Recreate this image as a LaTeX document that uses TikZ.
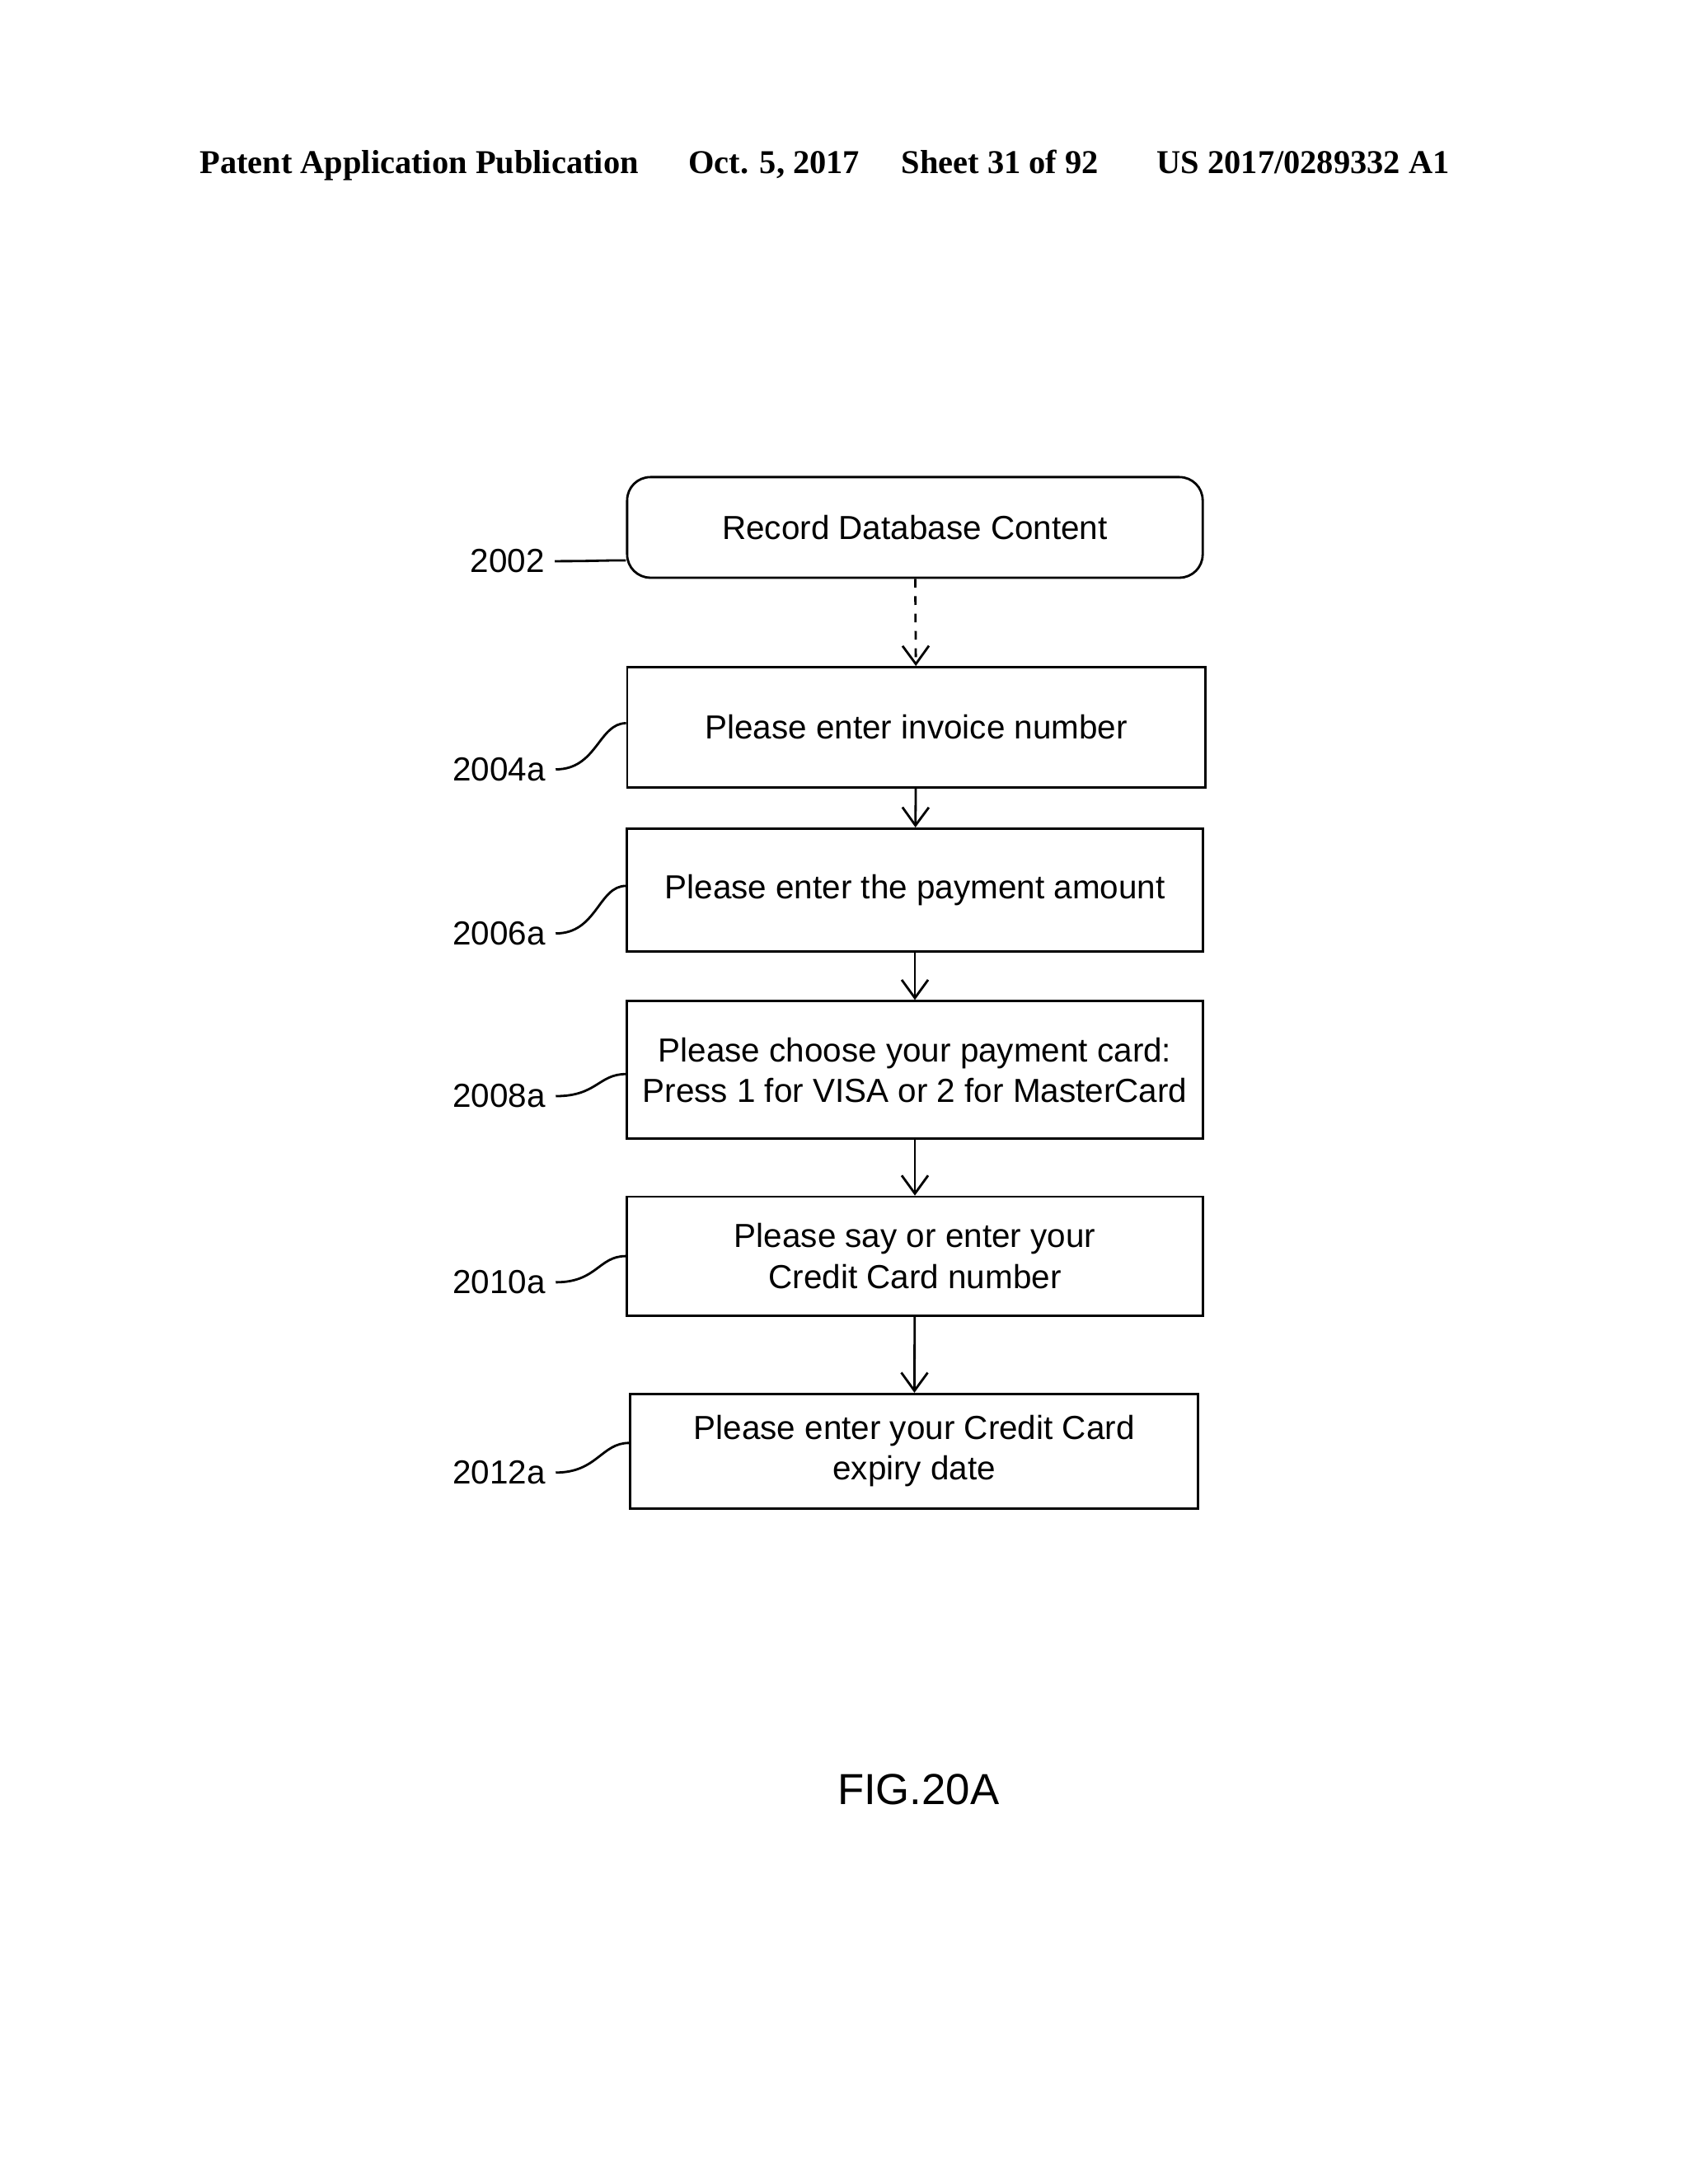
\documentclass[tikz,border=0pt]{standalone}
\usepackage{fontspec}
\setmainfont{Liberation Sans}
\newfontfamily\hdrfont{Liberation Serif}
\usetikzlibrary{arrows.meta,positioning}
\tikzset{
  stepbox/.style={draw, thick, minimum width=6.98cm, align=center, font=\fontsize{11.5}{14}\selectfont},
  lbl/.style={font=\fontsize{11.5}{14}\selectfont},
  flow/.style={-{Straight Barb[length=2.2mm,width=3.2mm]}, thick},
  lead/.style={thick}
}
\begin{document}
\begin{tikzpicture}[x=0.01673cm, y=-0.01673cm]
    \useasboundingbox (0,0) rectangle (1224,1584);

    % Header
    \node[font=\hdrfont\bfseries\fontsize{11.5}{14}\selectfont] (hdr) at (598,120)
      {Patent Application Publication \quad\ Oct. 5, 2017 \quad Sheet 31 of 92 \quad\ \ US 2017/0289332 A1};

    % Steps
    \node[stepbox, rounded corners=8pt, minimum height=1.22cm] (rec) at (663.5,382.5) {Record Database Content};
    \node[stepbox, minimum width=7.01cm, minimum height=1.46cm] (inv) at (664.5,527.5) {Please enter invoice number};
    \node[stepbox, minimum height=1.49cm] (amt) at (663.5,645.5) {Please enter the payment amount};
    \node[stepbox, minimum height=1.67cm] (card) at (663.5,776) {Please choose your payment card:\\Press 1 for VISA or 2 for MasterCard};
    \node[stepbox, minimum height=1.44cm] (ccn) at (663.5,911) {Please say or enter your\\Credit Card number};
    \node[stepbox, minimum width=6.89cm, minimum height=1.39cm] (exp) at (663,1052.5) {Please enter your Credit Card\\expiry date};

    \draw[flow, dashed] (rec) -- (inv);
    \draw[flow] (inv) -- (amt);
    \draw[flow] (amt) -- (card);
    \draw[flow] (card) -- (ccn);
    \draw[flow] (ccn) -- (exp);

    % Reference numerals
    \node[lbl] (l2002) at (368,407) {2002};
    \node[lbl] (l2004) at (362,558) {2004a};
    \node[lbl] (l2006) at (362,677) {2006a};
    \node[lbl] (l2008) at (362,795) {2008a};
    \node[lbl] (l2010) at (362,930) {2010a};
    \node[lbl] (l2012) at (362,1068) {2012a};

    \draw[lead] (l2002.east) .. controls +(30,0) and +(-20,0) .. ([yshift=-0.4cm]rec.west);
    \draw[lead] (l2004.east) .. controls +(30,0) and +(-20,0) .. ([yshift=0.05cm]inv.west);
    \draw[lead] (l2006.east) .. controls +(30,0) and +(-20,0) .. ([yshift=0.05cm]amt.west);
    \draw[lead] (l2008.east) .. controls +(30,0) and +(-20,0) .. ([yshift=-0.05cm]card.west);
    \draw[lead] (l2010.east) .. controls +(30,0) and +(-20,0) .. (ccn.west);
    \draw[lead] (l2012.east) .. controls +(30,0) and +(-20,0) .. ([yshift=0.1cm]exp.west);

    \node[font=\fontsize{15}{18}\selectfont] (fig) at (666,1298) {FIG.20A};
\end{tikzpicture}
\end{document}
